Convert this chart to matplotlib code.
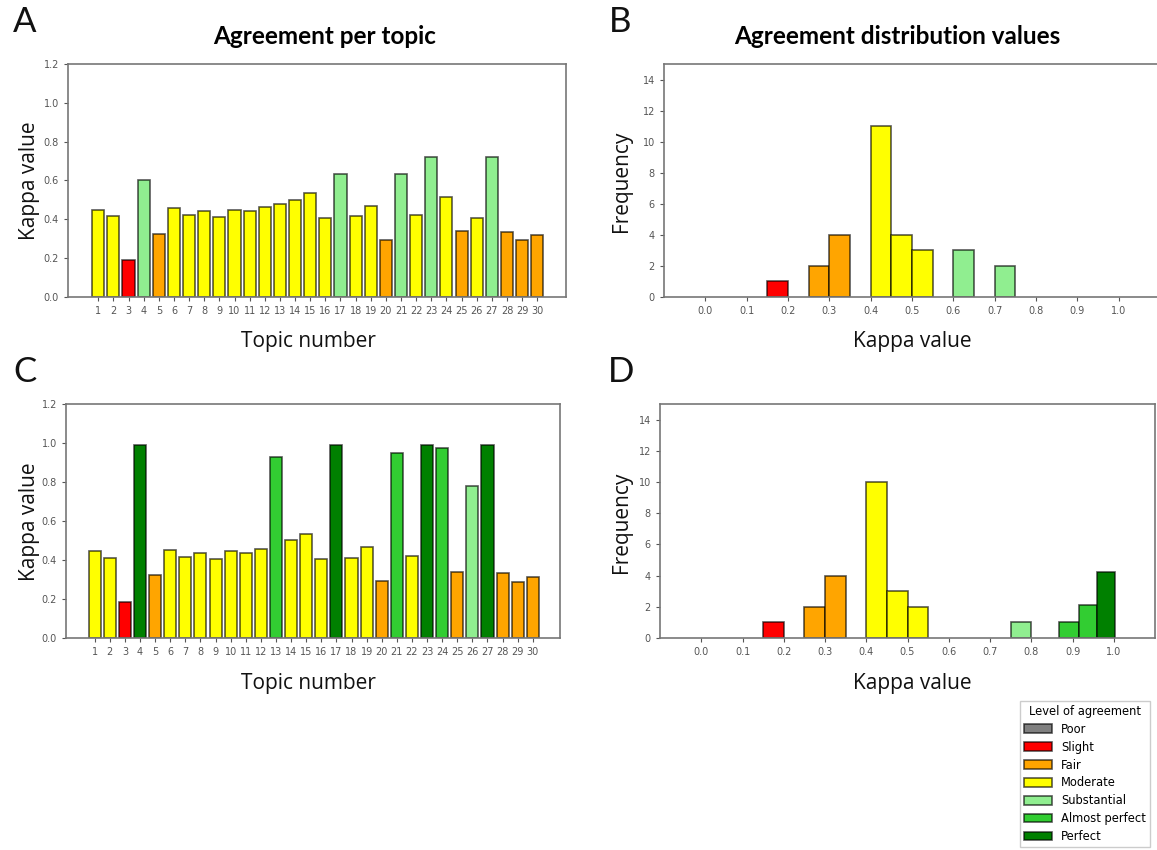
import matplotlib.pyplot as plt
from matplotlib.patches import Patch

# Kappa value per topic (panel A: before, panel C: after)
topics = list(range(1, 31))
kappa_a = [0.447, 0.418, 0.189, 0.602, 0.327, 0.457, 0.423, 0.442, 0.411, 0.447,
           0.442, 0.462, 0.478, 0.502, 0.536, 0.406, 0.633, 0.418, 0.468, 0.296,
           0.633, 0.423, 0.719, 0.517, 0.340, 0.406, 0.719, 0.335, 0.291, 0.321]
level_a = ["Moderate", "Moderate", "Slight", "Substantial", "Fair", "Moderate",
           "Moderate", "Moderate", "Moderate", "Moderate", "Moderate", "Moderate",
           "Moderate", "Moderate", "Moderate", "Moderate", "Substantial", "Moderate",
           "Moderate", "Fair", "Substantial", "Moderate", "Substantial", "Moderate",
           "Fair", "Moderate", "Substantial", "Fair", "Fair", "Fair"]
kappa_c = [0.444, 0.411, 0.186, 0.992, 0.324, 0.452, 0.417, 0.435, 0.406, 0.444,
           0.435, 0.456, 0.930, 0.502, 0.533, 0.403, 0.992, 0.411, 0.466, 0.292,
           0.951, 0.422, 0.992, 0.976, 0.340, 0.778, 0.992, 0.335, 0.287, 0.312]
level_c = ["Moderate", "Moderate", "Slight", "Perfect", "Fair", "Moderate",
           "Moderate", "Moderate", "Moderate", "Moderate", "Moderate", "Moderate",
           "Almost perfect", "Moderate", "Moderate", "Moderate", "Perfect", "Moderate",
           "Moderate", "Fair", "Almost perfect", "Moderate", "Perfect", "Almost perfect",
           "Fair", "Substantial", "Perfect", "Fair", "Fair", "Fair"]

# Histogram bars (left edge, width, height, level)
hist_b_left = [0.15, 0.25, 0.30, 0.40, 0.45, 0.50, 0.60, 0.70]
hist_b_width = [0.05] * 8
hist_b_count = [1, 2, 4, 11, 4, 3, 3, 2]
hist_b_level = ["Slight", "Fair", "Fair", "Moderate", "Moderate", "Moderate",
                "Substantial", "Substantial"]

hist_d_left = [0.15, 0.25, 0.30, 0.40, 0.45, 0.50, 0.75, 0.867, 0.915, 0.959]
hist_d_width = [0.05, 0.05, 0.05, 0.05, 0.05, 0.05, 0.05, 0.048, 0.044, 0.045]
hist_d_count = [1, 2, 4, 10, 3, 2, 1, 1.0, 2.1, 4.2]
hist_d_level = ["Slight", "Fair", "Fair", "Moderate", "Moderate", "Moderate",
                "Substantial", "Almost perfect", "Almost perfect", "Perfect"]

levels = ["Poor", "Slight", "Fair", "Moderate", "Substantial", "Almost perfect", "Perfect"]
level_colors = {"Poor": "grey", "Slight": "red", "Fair": "orange", "Moderate": "yellow",
                "Substantial": "lightgreen", "Almost perfect": "limegreen", "Perfect": "green"}

W, H = 1157, 850
fig = plt.figure(figsize=(W / 100, H / 100), dpi=100)

edge = (0, 0, 0, 0.65)
tick_col = "#555555"


def axes_px(l, t, r, b):
    return fig.add_axes([l / W, 1 - b / H, (r - l) / W, (b - t) / H])


def style(ax):
    for s in ax.spines.values():
        s.set_color("#777777")
        s.set_linewidth(1.2)
    ax.tick_params(colors=tick_col, labelsize=7, length=3, width=0.8)


def bar_panel(ax, values, lv, xlim):
    ax.bar(topics, values, width=0.8, color=[level_colors[l] for l in lv],
           edgecolor=edge, linewidth=1.2)
    ax.set_xticks(topics)
    ax.set_xlim(*xlim)
    ax.set_ylim(0, 1.2)
    ax.set_yticks([0.0, 0.2, 0.4, 0.6, 0.8, 1.0, 1.2])
    style(ax)


def hist_panel(ax, left, width, count, lv):
    ax.bar(left, count, width=width, align="edge",
           color=[level_colors[l] for l in lv], edgecolor=edge, linewidth=1.2)
    ax.set_xlim(-0.1, 1.1)
    ax.set_xticks([i / 10 for i in range(11)])
    ax.set_ylim(0, 15)
    ax.set_yticks(range(0, 15, 2))
    style(ax)


ax_a = axes_px(68, 64, 566, 297)
bar_panel(ax_a, kappa_a, level_a, (-1.0, 31.9))
ax_c = axes_px(66, 404, 560, 638)
bar_panel(ax_c, kappa_c, level_c, (-0.9, 31.8))
ax_b = axes_px(664, 64, 1160, 297)
hist_panel(ax_b, hist_b_left, hist_b_width, hist_b_count, hist_b_level)
ax_d = axes_px(660, 404, 1155, 638)
hist_panel(ax_d, hist_d_left, hist_d_width, hist_d_count, hist_d_level)

lab_font = dict(family=["Open Sans", "DejaVu Sans"], fontsize=15, color="#111111")


def ftext(x, y, s, **kw):
    fig.text(x / W, 1 - y / H, s, ha="center", va="center", **kw)


# panel letters
for x, y, s in [(25, 22, "A"), (620, 22, "B"), (25, 372, "C"), (621, 372, "D")]:
    ftext(x, y, s, family=["Lato", "DejaVu Sans"], fontweight="normal", fontsize=25,
          color="#111111")

# titles
ftext(325, 36, "Agreement per topic", family=["Lato", "DejaVu Sans"],
      fontweight="bold", fontsize=17.5)
ftext(897, 36, "Agreement distribution values", family=["Lato", "DejaVu Sans"],
      fontweight="bold", fontsize=17.5)

# axis labels
ftext(30, 181, "Kappa value", rotation=90, **lab_font)
ftext(30, 522, "Kappa value", rotation=90, **lab_font)
ftext(621, 181, "Frequency", rotation=90, **lab_font)
ftext(621, 522, "Frequency", rotation=90, **lab_font)
ftext(308, 342, "Topic number", **lab_font)
ftext(308, 684, "Topic number", **lab_font)
ftext(912, 342, "Kappa value", **lab_font)
ftext(912, 684, "Kappa value", **lab_font)

handles = [Patch(facecolor=level_colors[l], edgecolor=edge, linewidth=1.2, label=l)
           for l in levels]
fig.legend(handles=handles, title="Level of agreement", loc="upper right",
           bbox_to_anchor=(1150 / W, 1 - 701 / H), fontsize=8.3, title_fontsize=8.3,
           handlelength=2.4, handleheight=0.8, labelspacing=0.42, borderaxespad=0,
           borderpad=0.35, framealpha=1, fancybox=False, edgecolor="#cccccc")

fig.savefig("out.png", dpi=100)
